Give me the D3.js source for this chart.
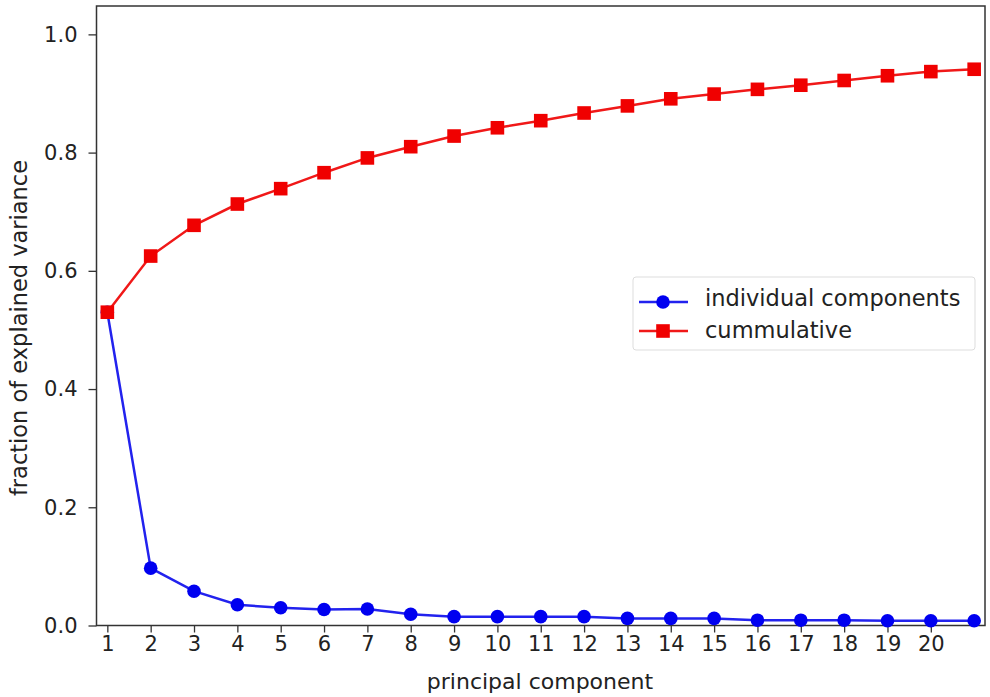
<!DOCTYPE html>
<html><head><meta charset="utf-8">
<script src="https://cdn.jsdelivr.net/npm/d3@7/dist/d3.min.js"></script>
<style>body{margin:0;background:#fff}text{font-family:"DejaVu Sans",sans-serif;fill:#222}</style>
</head><body><svg id="c" width="990" height="697"></svg>
<script>
const components = d3.range(1, 22);
const individual = [0.530,0.097,0.058,0.035,0.030,0.027,0.028,0.019,0.015,0.015,0.015,0.015,0.012,0.012,0.012,0.009,0.009,0.009,0.008,0.008,0.008];
const cumulative = [0.530,0.625,0.677,0.713,0.739,0.766,0.791,0.810,0.828,0.842,0.854,0.867,0.879,0.891,0.899,0.907,0.914,0.922,0.930,0.937,0.941];
const xTicks = d3.range(1, 21);
const yTicks = [0, 0.2, 0.4, 0.6, 0.8, 1.0];
const seriesNames = ["individual components", "cummulative"];

const svg = d3.select("#c");
const L = 96.5, R = 985, T = 6, B = 625.5;
const x = d3.scaleLinear().domain([0.75, 21.25]).range([L, R]);
const y = d3.scaleLinear().domain([0, 1.048]).range([B, T]);

const gx = svg.append("g").attr("transform", `translate(0,${B})`)
  .call(d3.axisBottom(x).tickValues(xTicks).tickFormat(d3.format("d")).tickSizeOuter(0).tickSize(7).tickPadding(4));
const gy = svg.append("g").attr("transform", `translate(${L},0)`)
  .call(d3.axisLeft(y).tickValues(yTicks).tickFormat(d3.format(".1f")).tickSizeOuter(0).tickSize(8).tickPadding(11));
[gx, gy].forEach(g => {
  g.selectAll("text").style("font-size", "21px").attr("fill", "#222");
  g.selectAll("line").attr("stroke", "#333").attr("stroke-width", 1.3);
  g.select(".domain").remove();
});
svg.append("rect").attr("x", L).attr("y", T).attr("width", R - L).attr("height", B - T)
  .attr("fill", "none").attr("stroke", "#333").attr("stroke-width", 1.5);

const line = d3.line().x((d, i) => x(components[i])).y(d => y(d));
svg.append("path").datum(individual).attr("d", line).attr("fill", "none").attr("stroke", "#2222ee").attr("stroke-width", 2.5);
svg.append("path").datum(cumulative).attr("d", line).attr("fill", "none").attr("stroke", "#f01818").attr("stroke-width", 2.5);
svg.selectAll("circle.ind").data(individual).enter().append("circle")
  .attr("cx", (d, i) => x(components[i])).attr("cy", d => y(d)).attr("r", 6.8).attr("fill", "#0000f0");
svg.selectAll("rect.cum").data(cumulative).enter().append("rect")
  .attr("x", (d, i) => x(components[i]) - 6.8).attr("y", d => y(d) - 6.8)
  .attr("width", 13.6).attr("height", 13.6).attr("fill", "#f00000");

// legend
const lg = svg.append("g");
lg.append("rect").attr("x", 633).attr("y", 277).attr("width", 342).attr("height", 73).attr("rx", 3)
  .attr("fill", "#fff").attr("stroke", "#ddd").attr("stroke-width", 1);
lg.append("line").attr("x1", 639).attr("x2", 688).attr("y1", 302).attr("y2", 302).attr("stroke", "#2222ee").attr("stroke-width", 2.5);
lg.append("circle").attr("cx", 663).attr("cy", 302).attr("r", 6.8).attr("fill", "#0000f0");
lg.append("line").attr("x1", 639).attr("x2", 688).attr("y1", 331).attr("y2", 331).attr("stroke", "#f01818").attr("stroke-width", 2.5);
lg.append("rect").attr("x", 656.2).attr("y", 324.2).attr("width", 13.6).attr("height", 13.6).attr("fill", "#f00000");
lg.append("text").attr("x", 705).attr("y", 306).style("font-size", "22.5px").text(seriesNames[0]);
lg.append("text").attr("x", 705).attr("y", 338).style("font-size", "22.5px").text(seriesNames[1]);

svg.append("text").attr("x", 540).attr("y", 689).attr("text-anchor", "middle").style("font-size", "22px").text("principal component");
svg.append("text").attr("transform", `translate(27,328) rotate(-90)`).attr("text-anchor", "middle").style("font-size", "22.5px").text("fraction of explained variance");
</script></body></html>
